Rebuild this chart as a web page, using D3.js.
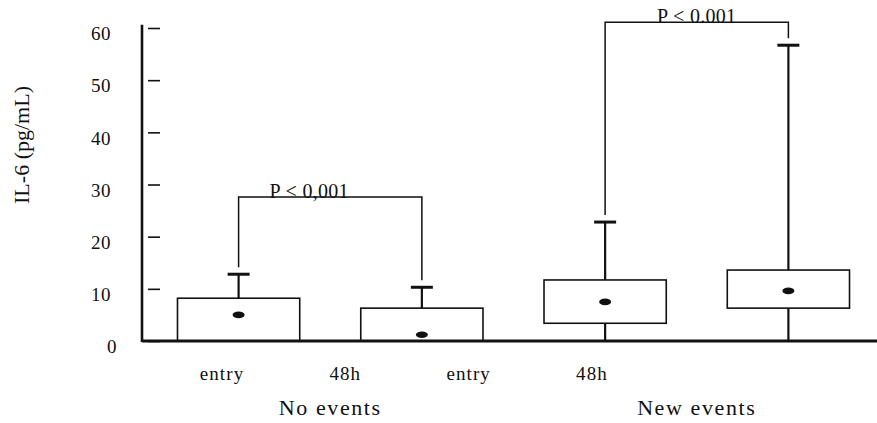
<!DOCTYPE html>
<html>
<head>
<meta charset="utf-8">
<script src="https://cdn.jsdelivr.net/npm/d3@7"></script>
<style>
  html, body { margin: 0; padding: 0; background: #fff; }
  svg { display: block; }
</style>
</head>
<body>
<svg id="chart" width="877" height="423"></svg>
<script>
// IL-6 at entry and at 48 h, patients without and with new events
const groups = ["No events", "New events"];
const timepoints = ["entry", "48h"];
const boxKeys = ["No events|entry", "No events|48h", "New events|entry", "New events|48h"];
const q1 = [0, 0, 3.4, 6.3];
const q3 = [8.2, 6.3, 11.7, 13.6];
const medians = [5.0, 1.2, 7.5, 9.6];
const whiskerLow = [0, 0, 0, 0];
const whiskerHigh = [12.8, 10.3, 22.8, 56.7];
const yTicks = [0, 10, 20, 30, 40, 50, 60];
const pLabels = ["P < 0,001", "P < 0.001"];
const bracketLevels = [27.6, 61.1];
const axisLabelKeys = ["a", "b", "c", "d"];
const axisLabels = ["entry", "48h", "entry", "48h"];

const serif = "'Liberation Serif', 'Times New Roman', Times, 'DejaVu Serif', serif";
const svg = d3.select("#chart");
const ink = "#111";

const y = d3.scaleLinear().domain([0, 60]).range([341, 28]);
const x = d3.scaleBand().domain(boxKeys).range([150, 877])
  .paddingInner(0.333).paddingOuter(0.15);
const xLab = d3.scalePoint().domain(axisLabelKeys).range([222, 592]);

const boxes = boxKeys.map((k, i) => ({
  key: k, q1: q1[i], q3: q3[i], med: medians[i], lo: whiskerLow[i], hi: whiskerHigh[i]
}));
const cx = d => x(d.key) + x.bandwidth() / 2;

function serifText(sel, size, spacing) {
  sel.style("font-family", serif).style("font-size", size + "px").style("fill", ink)
    .style("letter-spacing", (spacing || 0) + "px");
}

// y axis: heavy spine, short ticks standing off to the right
svg.append("line")
  .attr("x1", 142).attr("x2", 142)
  .attr("y1", y(60.6)).attr("y2", y(0) + 1)
  .attr("stroke", ink).attr("stroke-width", 2.6);

const tickG = svg.append("g").attr("transform", "translate(148,0)")
  .call(d3.axisRight(y).tickValues(yTicks).tickSize(12).tickFormat(""));
tickG.select(".domain").remove();
tickG.selectAll(".tick line").attr("stroke", ink).attr("stroke-width", 1.6);

const labG = svg.append("g").attr("transform", "translate(111,0)")
  .call(d3.axisLeft(y).tickValues(yTicks).tickSize(0).tickPadding(0));
labG.attr("font-family", null).attr("font-size", null);
labG.select(".domain").remove();
labG.selectAll(".tick text")
  .call(serifText, 19, 0.5)
  .attr("dy", "0.62em")
  .attr("dx", d => d === 0 ? 6 : 0);

// whiskers
const g = svg.append("g");
g.selectAll("line.whi-up").data(boxes).join("line")
  .attr("x1", cx).attr("x2", cx)
  .attr("y1", d => y(d.q3)).attr("y2", d => y(d.hi))
  .attr("stroke", ink).attr("stroke-width", 2.2);
g.selectAll("line.whi-lo").data(boxes.filter(d => d.q1 > d.lo)).join("line")
  .attr("x1", cx).attr("x2", cx)
  .attr("y1", d => y(d.q1)).attr("y2", d => y(d.lo))
  .attr("stroke", ink).attr("stroke-width", 2.2);
g.selectAll("line.cap").data(boxes).join("line")
  .attr("x1", d => cx(d) - 11).attr("x2", d => cx(d) + 11)
  .attr("y1", d => y(d.hi)).attr("y2", d => y(d.hi))
  .attr("stroke", ink).attr("stroke-width", 3);

// boxes
g.selectAll("rect.box").data(boxes).join("rect")
  .attr("x", d => x(d.key)).attr("width", x.bandwidth())
  .attr("y", d => y(d.q3)).attr("height", d => y(d.q1) - y(d.q3))
  .attr("fill", "#fff").attr("stroke", ink).attr("stroke-width", 1.6);

// heavy baseline drawn over the box bottoms
svg.append("line")
  .attr("x1", 142).attr("x2", 877)
  .attr("y1", y(0)).attr("y2", y(0))
  .attr("stroke", ink).attr("stroke-width", 3);

// medians
g.selectAll("ellipse.med").data(boxes).join("ellipse")
  .attr("cx", cx).attr("cy", d => y(d.med))
  .attr("rx", 6).attr("ry", 3.3)
  .attr("fill", ink);

// significance brackets between entry and 48h within each group
const legGap = 7;
const pLabelDx = [-21, 0];
groups.forEach((grp, gi) => {
  const a = boxes.find(b => b.key === grp + "|" + timepoints[0]);
  const b = boxes.find(b2 => b2.key === grp + "|" + timepoints[1]);
  const yTop = y(bracketLevels[gi]);
  const path = d3.path();
  path.moveTo(cx(a), y(a.hi) - legGap);
  path.lineTo(cx(a), yTop);
  path.lineTo(cx(b), yTop);
  path.lineTo(cx(b), y(b.hi) - legGap);
  svg.append("path").attr("d", path.toString())
    .attr("fill", "none").attr("stroke", ink).attr("stroke-width", 1.5);
  svg.append("text")
    .attr("x", (cx(a) + cx(b)) / 2 + pLabelDx[gi])
    .attr("y", yTop + 1)
    .attr("text-anchor", "middle")
    .call(serifText, 20, 0.3)
    .text(pLabels[gi]);
});

// timepoint labels
svg.append("g").selectAll("text").data(axisLabelKeys).join("text")
  .attr("x", d => xLab(d)).attr("y", 380)
  .attr("text-anchor", "middle")
  .call(serifText, 19, 1.1)
  .text((d, i) => axisLabels[i]);

// group labels, centred under each pair of boxes
svg.append("g").selectAll("text").data(groups).join("text")
  .attr("x", grp => {
    const ks = timepoints.map(t => grp + "|" + t);
    return (x(ks[0]) + x(ks[1]) + x.bandwidth()) / 2;
  })
  .attr("y", 415)
  .attr("text-anchor", "middle")
  .call(serifText, 22, 1.6)
  .text(d => d);

// y axis title
svg.append("text")
  .attr("transform", "translate(29,145) rotate(-90)")
  .attr("text-anchor", "middle")
  .call(serifText, 22)
  .text("IL-6 (pg/mL)");
</script>
</body>
</html>
